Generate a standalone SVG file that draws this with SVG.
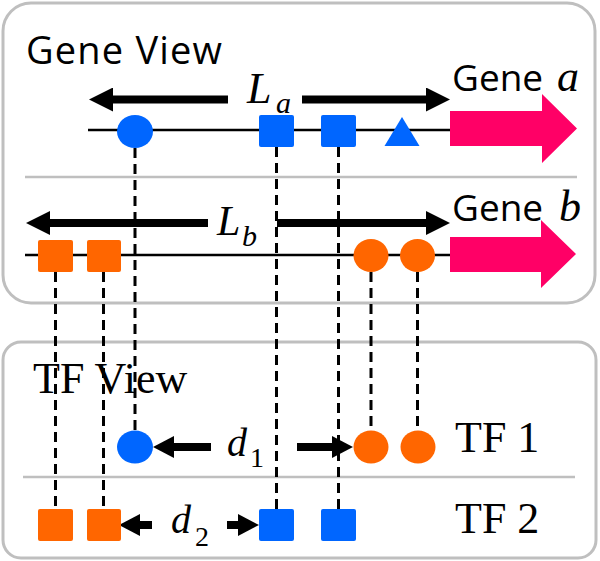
<svg xmlns="http://www.w3.org/2000/svg" width="600" height="561" viewBox="0 0 600 561">
<style>
.box{fill:#ffffff;stroke:#bfbfbf;stroke-width:3}
.sep{stroke:#bfbfbf;stroke-width:2.5}
.dna{stroke:#000;stroke-width:2.5}
.dash{stroke:#000;stroke-width:3;stroke-dasharray:10 6;fill:none}
.thick{stroke:#000;stroke-width:8;fill:none}
.blue{fill:#0066ff}
.orange{fill:#ff6600}
.pink{fill:#ff0066}
.sans{font-family:"Open Sans","Liberation Sans",sans-serif;fill:#000}
.serif{font-family:"Liberation Serif","DejaVu Serif",serif;fill:#000}
.it{font-style:italic}
</style>
<defs>
<marker id="ah" markerUnits="userSpaceOnUse" viewBox="0 0 24 24" refX="12" refY="12" markerWidth="24" markerHeight="24" orient="auto">
<path d="M0,0 L24,12 L0,24 z" fill="#000"/>
</marker>
<marker id="ahs" markerUnits="userSpaceOnUse" viewBox="0 0 21 22" refX="10" refY="11" markerWidth="21" markerHeight="22" orient="auto">
<path d="M0,0 L21,11 L0,22 z" fill="#000"/>
</marker>
</defs>

<g id="gene-view-panel">
<rect class="box" x="3" y="3" width="592" height="300" rx="28"/>
<line class="sep" x1="25" y1="177" x2="577" y2="177"/>
<text class="sans" x="26" y="64" font-size="38" textLength="196">Gene View</text>
</g>
<g id="tf-view-panel">
<rect class="box" x="3" y="342" width="593" height="216" rx="18"/>
<line class="sep" x1="23" y1="477" x2="575" y2="477"/>
</g>

<g id="gene-a">
<line class="dna" x1="88" y1="130" x2="450" y2="130"/>
<polygon class="pink" points="450,111 542,111 542,94 577,128.5 542,163 542,146 450,146"/>
<text class="sans" x="452" y="91" font-size="37">Gene</text>
<text class="serif it" x="557" y="91" font-size="44">a</text>
</g>
<g id="gene-b">
<line class="dna" x1="25" y1="255" x2="450" y2="255"/>
<polygon class="pink" points="450,237 541,237 541,220 576,254 541,288 541,272 450,272"/>
<text class="sans" x="452" y="221" font-size="37">Gene</text>
<text class="serif it" x="559" y="221" font-size="44">b</text>
</g>

<g id="connectors">
<line class="dash" x1="135" y1="148" x2="135" y2="431"/>
<line class="dash" x1="276.5" y1="147" x2="276.5" y2="509"/>
<line class="dash" x1="338.5" y1="147" x2="338.5" y2="509"/>
<line class="dash" x1="55.5" y1="272" x2="55.5" y2="509"/>
<line class="dash" x1="103.5" y1="272" x2="103.5" y2="509"/>
<line class="dash" x1="371" y1="272" x2="371" y2="431"/>
<line class="dash" x1="417.5" y1="272" x2="417.5" y2="431"/>
<line class="thick" x1="228" y1="99.5" x2="101" y2="99.5" marker-end="url(#ah)"/>
<line class="thick" x1="302" y1="99.5" x2="438" y2="99.5" marker-end="url(#ah)"/>
<line class="thick" x1="208" y1="223" x2="38" y2="223" marker-end="url(#ah)"/>
<line class="thick" x1="277" y1="223" x2="438" y2="223" marker-end="url(#ah)"/>
<line class="thick" x1="211" y1="447" x2="164" y2="447" marker-end="url(#ahs)"/>
<line class="thick" x1="297" y1="447" x2="342" y2="447" marker-end="url(#ahs)"/>
<line class="thick" x1="152" y1="525" x2="130" y2="525" marker-end="url(#ahs)"/>
<line class="thick" x1="227" y1="525" x2="248" y2="525" marker-end="url(#ahs)"/>
</g>

<g id="labels">
<text class="serif it" x="247" y="103" font-size="44">L</text>
<text class="serif it" x="276" y="113" font-size="30">a</text>
<text class="serif it" x="217" y="235" font-size="42">L</text>
<text class="serif it" x="242" y="246" font-size="30">b</text>
<text class="serif it" x="227" y="456" font-size="40">d</text>
<text class="serif" x="250" y="467" font-size="28">1</text>
<text class="serif it" x="171" y="533" font-size="40">d</text>
<text class="serif" x="195" y="546" font-size="28">2</text>
<text class="serif" x="33" y="393" font-size="44">TF View</text>
<text class="serif" x="455" y="452" font-size="44">TF 1</text>
<text class="serif" x="455" y="533" font-size="44">TF 2</text>
</g>

<g id="site-a-circle"><ellipse class="blue" cx="135" cy="131.5" rx="18" ry="16.5"/></g>
<g id="site-a-square1"><rect class="blue" x="259" y="115" width="35" height="32" rx="2"/></g>
<g id="site-a-square2"><rect class="blue" x="321" y="115" width="35" height="32" rx="2"/></g>
<g id="site-a-triangle"><polygon class="blue" points="402,117 419.5,146 384.5,146"/></g>
<g id="site-b-square1"><rect class="orange" x="38" y="240" width="35" height="32" rx="2"/></g>
<g id="site-b-square2"><rect class="orange" x="87" y="240" width="34" height="32" rx="2"/></g>
<g id="site-b-circle1"><ellipse class="orange" cx="371" cy="255.5" rx="17.5" ry="16.5"/></g>
<g id="site-b-circle2"><ellipse class="orange" cx="417.5" cy="255.5" rx="17.5" ry="16.5"/></g>

<g id="tf1-blue-circle"><ellipse class="blue" cx="135" cy="447" rx="18" ry="16.5"/></g>
<g id="tf1-orange-circle1"><ellipse class="orange" cx="371" cy="447" rx="17.5" ry="16.5"/></g>
<g id="tf1-orange-circle2"><ellipse class="orange" cx="418" cy="447" rx="17.5" ry="16.5"/></g>
<g id="tf2-orange-square1"><rect class="orange" x="38" y="509" width="35" height="32" rx="2"/></g>
<g id="tf2-orange-square2"><rect class="orange" x="87" y="509" width="34" height="32" rx="2"/></g>
<g id="tf2-blue-square1"><rect class="blue" x="259" y="509" width="35" height="32" rx="2"/></g>
<g id="tf2-blue-square2"><rect class="blue" x="321" y="509" width="35" height="32" rx="2"/></g>
</svg>
